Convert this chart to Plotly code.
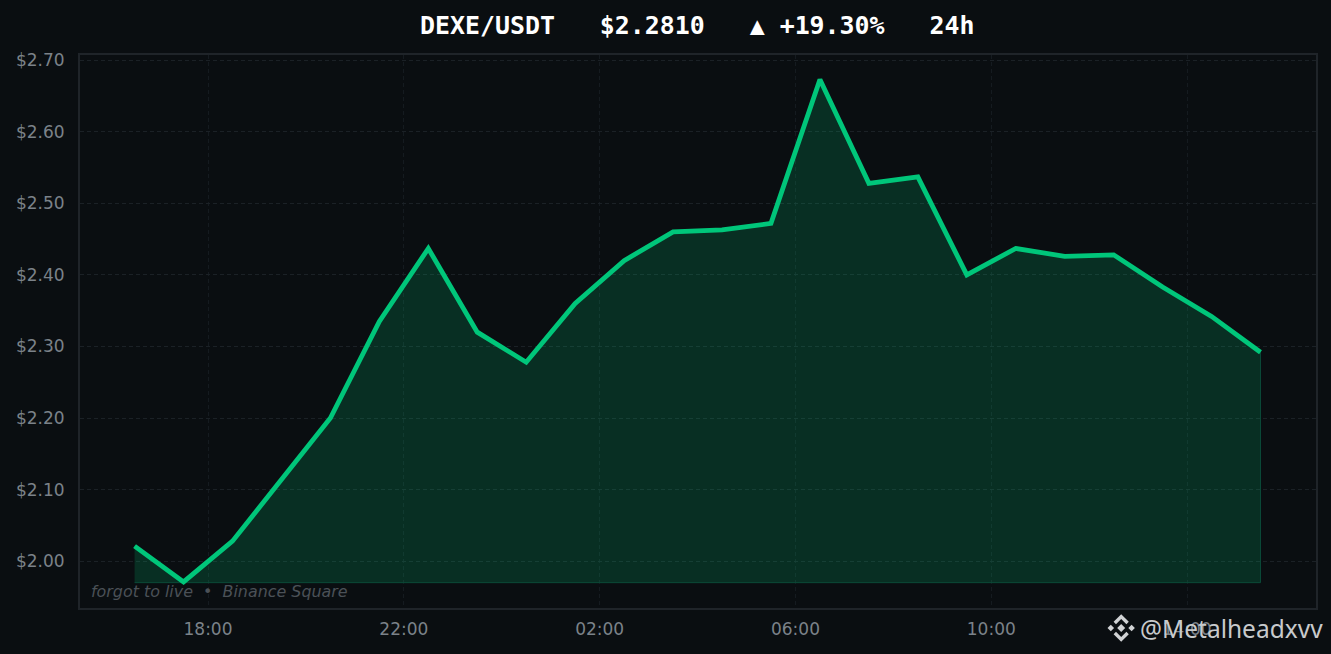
import plotly.graph_objects as go

times = ["2024-01-01 16:30","2024-01-01 17:30","2024-01-01 18:30","2024-01-01 19:30","2024-01-01 20:30","2024-01-01 21:30",
         "2024-01-01 22:30","2024-01-01 23:30","2024-01-02 00:30","2024-01-02 01:30","2024-01-02 02:30","2024-01-02 03:30",
         "2024-01-02 04:30","2024-01-02 05:30","2024-01-02 06:30","2024-01-02 07:30","2024-01-02 08:30","2024-01-02 09:30",
         "2024-01-02 10:30","2024-01-02 11:30","2024-01-02 12:30","2024-01-02 13:30","2024-01-02 14:30","2024-01-02 15:30"]
prices = [2.021,1.971,2.028,2.114,2.200,2.335,2.437,2.320,2.278,2.360,2.420,2.460,
          2.463,2.472,2.673,2.528,2.537,2.400,2.437,2.426,2.428,2.383,2.342,2.292]
baseline = 1.970
y_ticks = [2.0,2.1,2.2,2.3,2.4,2.5,2.6,2.7]
y_labels = ["$2.00","$2.10","$2.20","$2.30","$2.40","$2.50","$2.60","$2.70"]
x_ticks = ["2024-01-01 18:00","2024-01-01 22:00","2024-01-02 02:00","2024-01-02 06:00","2024-01-02 10:00","2024-01-02 14:00"]
x_labels = ["18:00","22:00","02:00","06:00","10:00","14:00"]
title_text = "DEXE/USDT   $2.2810   ▲ +19.30%   24h"
credit_text = "forgot to live  •  Binance Square"
handle_text = "@Metalheadxvv"

BG = "#0a0e11"
GRID = "#1b2126"
BORDER = "#1f2429"
TICK = "#7b8289"
GREEN = "#00c67a"

W, H = 1331, 654
L, R, T, B = 80, 15, 55, 46
def px(x): return (x - L) / (W - L - R)
def py(y): return 1 - (y - T) / (H - T - B)

fig = go.Figure()
fig.add_trace(go.Scatter(
    x=times + [times[-1], times[0]], y=prices + [baseline, baseline],
    mode="lines", fill="toself", fillcolor="rgba(0,198,122,0.18)",
    line=dict(color="#0b4a38", width=1), hoverinfo="skip", showlegend=False))
fig.add_trace(go.Scatter(
    x=times, y=prices, mode="lines",
    line=dict(color=GREEN, width=4.8, shape="linear"), showlegend=False))

axis_common = dict(showgrid=True, griddash="4px,3px", gridwidth=1,
                   zeroline=False, showline=True, linecolor=BORDER, linewidth=2, mirror=True,
                   ticks="", tickfont=dict(family="DejaVu Sans", size=17, color=TICK))

LOGO = "#d0d2d4"
LX, LY = 1121.2, 628
def diamond(cx, cy, r):
    return f"M {px(cx)} {py(cy-r)} L {px(cx+r)} {py(cy)} L {px(cx)} {py(cy+r)} L {px(cx-r)} {py(cy)} Z"
logo_marks = [(LX, LY, 4.0), (LX-10.4, LY, 3.3), (LX+10.4, LY, 3.3)]
shapes = [dict(type="path", xref="paper", yref="paper", path=diamond(*m),
               fillcolor=LOGO, line=dict(width=0), layer="above") for m in logo_marks]
def chevron(cx, cy, up):
    s = -1 if up else 1
    pts = [(cx-7.6, cy+s*6.2), (cx, cy+s*13.8), (cx+7.6, cy+s*6.2), (cx+5.2, cy+s*3.8), (cx, cy+s*9), (cx-5.2, cy+s*3.8)]
    return "M " + " L ".join(f"{px(x)} {py(y)}" for x, y in pts) + " Z"
for up in (True, False):
    shapes.append(dict(type="path", xref="paper", yref="paper", path=chevron(LX, LY, up),
                       fillcolor=LOGO, line=dict(width=0), layer="above"))

fig.update_layout(
    width=W, height=H, margin=dict(l=L, r=R, t=T, b=B),
    paper_bgcolor=BG, plot_bgcolor=BG, showlegend=False, shapes=shapes,
    xaxis=dict(axis_common, gridcolor="#151b20", type="date", range=["2024-01-01 15:23:06","2024-01-02 16:38"],
               tickmode="array", tickvals=x_ticks, ticktext=x_labels, ticklabelstandoff=5),
    yaxis=dict(axis_common, gridcolor=GRID, range=[1.9346,2.70727], tickmode="array", tickvals=y_ticks, ticktext=y_labels,
               ticklabelstandoff=10),
    annotations=[
        dict(text=f"<b>{title_text}</b>", xref="paper", yref="paper", x=px(697), xanchor="center",
             y=py(26), yanchor="middle", showarrow=False,
             font=dict(family="DejaVu Sans Mono", size=24.9, color="#ffffff")),
        dict(text=f"<i>{credit_text}</i>", xref="paper", yref="paper", x=px(89), xanchor="left",
             y=py(591), yanchor="middle", showarrow=False,
             font=dict(family="DejaVu Sans", size=15.9, color="#4b5157")),
        dict(text=handle_text, xref="paper", yref="paper", x=px(1138), xanchor="left",
             y=py(628), yanchor="middle", showarrow=False,
             font=dict(family="Noto Sans", size=24.5, color="#c8cacc")),
    ],
)
fig.write_html("out.html", config=dict(displayModeBar=False),
               post_script="document.body.style.margin='0';document.body.style.background='#0a0e11';document.body.style.overflow='hidden';")
